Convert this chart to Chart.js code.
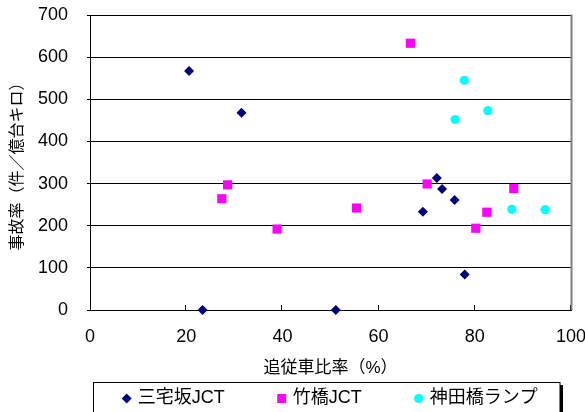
<!DOCTYPE html>
<html>
<head>
<meta charset="utf-8">
<script src="https://cdn.jsdelivr.net/npm/chart.js@4/dist/chart.umd.min.js"></script>
<style>
  html, body { margin: 0; padding: 0; background: #fff; }
  #wrap { width: 585px; height: 412px; position: relative; }
</style>
</head>
<body>
<div id="wrap"><canvas id="c" width="585" height="412"></canvas></div>
<script>
// Series names
const seriesNames = ['三宅坂JCT', '竹橋JCT', '神田橋ランプ'];

// 三宅坂JCT: follower ratio (%) and accident rate
const miyakezakaX = [20.6, 31.5, 23.4, 51.1, 72.1, 73.2, 75.8, 69.2, 77.9];
const miyakezakaY = [567, 468, 0, 0, 313, 287, 261, 233, 84];

// 竹橋JCT
const takebashiX = [66.6, 70.1, 28.6, 27.4, 38.9, 55.4, 80.2, 82.5, 88.1];
const takebashiY = [633, 299, 297, 264, 192, 242, 194, 232, 288];

// 神田橋ランプ
const kandabashiX = [77.8, 82.7, 75.9, 87.7, 94.6];
const kandabashiY = [545, 473, 452, 239, 238];

// Axis ticks and titles
const xTickValues = [0, 20, 40, 60, 80, 100];
const yTickValues = [0, 100, 200, 300, 400, 500, 600, 700];
const xTitle = '追従車比率（%）';
const yTitle = '事故率（件／億台キロ）';

const FONT = '"Liberation Sans", Arial, "Noto Sans CJK JP", sans-serif';

function pairs(xs, ys) { return xs.map((x, i) => ({ x: x, y: ys[i] })); }

// Plot frame: gray right edge and inward x tick marks
const framePlugin = {
  id: 'frame',
  afterDatasetsDraw(chart) {
    const { ctx, chartArea: a, scales } = chart;
    ctx.save();
    ctx.strokeStyle = '#000';
    ctx.lineWidth = 1;
    ctx.beginPath();
    xTickValues.forEach(v => {
      if (v === 0) return;
      const px = Math.round(scales.x.getPixelForValue(v)) - 0.5;
      ctx.moveTo(px, a.bottom);
      ctx.lineTo(px, a.bottom - 5);
    });
    ctx.stroke();
    ctx.strokeStyle = '#808080';
    ctx.lineWidth = 2;
    ctx.beginPath();
    ctx.moveTo(a.right + 0.5, a.top - 0.5);
    ctx.lineTo(a.right + 0.5, a.bottom);
    ctx.stroke();
    ctx.restore();
  }
};

// Boxed legend under the x-axis title
const boxLegend = {
  id: 'boxLegend',
  afterDraw(chart) {
    const ctx = chart.ctx;
    ctx.save();
    // shadow on the right edge
    ctx.fillStyle = '#000';
    ctx.fillRect(560, 385, 3, 30);
    ctx.fillStyle = '#fff';
    ctx.fillRect(93.5, 382.5, 466.5, 40);
    ctx.strokeStyle = '#000';
    ctx.lineWidth = 1;
    ctx.strokeRect(93.5, 382.5, 466.5, 40);

    ctx.font = '18px ' + FONT;
    ctx.textBaseline = 'middle';
    ctx.textAlign = 'left';
    const cy = 398.5;
    let mx = 126.7;
    chart.data.datasets.forEach(ds => {
      ctx.fillStyle = ds.backgroundColor;
      ctx.beginPath();
      if (ds.pointStyle === 'rectRot') {
        ctx.moveTo(mx, cy - 5); ctx.lineTo(mx + 5, cy);
        ctx.lineTo(mx, cy + 5); ctx.lineTo(mx - 5, cy);
        ctx.closePath();
      } else if (ds.pointStyle === 'rect') {
        ctx.rect(mx - 4.5, cy - 4.5, 9, 9);
      } else {
        ctx.arc(mx, cy, 4.6, 0, Math.PI * 2);
      }
      ctx.fill();
      ctx.fillStyle = '#000';
      const tx = mx + 11;
      ctx.fillText(ds.label, tx, cy);
      mx = tx + ctx.measureText(ds.label).width + 57;
    });
    ctx.restore();
  }
};

new Chart(document.getElementById('c'), {
  type: 'scatter',
  data: {
    datasets: [
      { label: seriesNames[0], data: pairs(miyakezakaX, miyakezakaY),
        pointStyle: 'rectRot', pointRadius: 5, borderWidth: 0,
        backgroundColor: '#000080', borderColor: '#000080', clip: false },
      { label: seriesNames[1], data: pairs(takebashiX, takebashiY),
        pointStyle: 'rect', pointRadius: 6.5, borderWidth: 0,
        backgroundColor: '#FF00FF', borderColor: '#FF00FF', clip: false },
      { label: seriesNames[2], data: pairs(kandabashiX, kandabashiY),
        pointStyle: 'circle', pointRadius: 4.6, borderWidth: 0,
        backgroundColor: '#00FFFF', borderColor: '#00FFFF', clip: false }
    ]
  },
  options: {
    responsive: false,
    animation: false,
    devicePixelRatio: 1,
    layout: { padding: { top: 15, right: 14, bottom: 0, left: 0 } },
    plugins: { legend: { display: false }, tooltip: { enabled: false } },
    scales: {
      x: {
        type: 'linear', position: 'bottom', min: 0, max: 100,
        afterBuildTicks: s => { s.ticks = xTickValues.map(v => ({ value: v })); },
        afterFit: s => { s.height = 102; s.paddingLeft = 0; s.paddingRight = 0; },
        grid: { drawOnChartArea: false, drawTicks: false },
        border: { display: true, color: '#000', width: 1 },
        ticks: { padding: 16, color: '#000', font: { family: FONT, size: 18 } },
        title: { display: true, text: xTitle, color: '#000',
                 font: { family: FONT, size: 17 }, padding: { top: 0, bottom: 33 } }
      },
      y: {
        type: 'linear', position: 'left', min: 0, max: 700,
        afterBuildTicks: s => { s.ticks = yTickValues.map(v => ({ value: v })); },
        afterFit: s => { s.width = 90; s.paddingTop = 0; s.paddingBottom = 0; },
        grid: { color: '#000', lineWidth: 1, drawTicks: true, tickLength: 3 },
        border: { display: true, color: '#000', width: 1 },
        ticks: { padding: 19, color: '#000', font: { family: FONT, size: 18 } },
        title: { display: true, text: yTitle, color: '#000',
                 font: { family: FONT, size: 16 }, padding: { top: 8, bottom: 0 } }
      }
    }
  },
  plugins: [framePlugin, boxLegend]
});
</script>
</body>
</html>
